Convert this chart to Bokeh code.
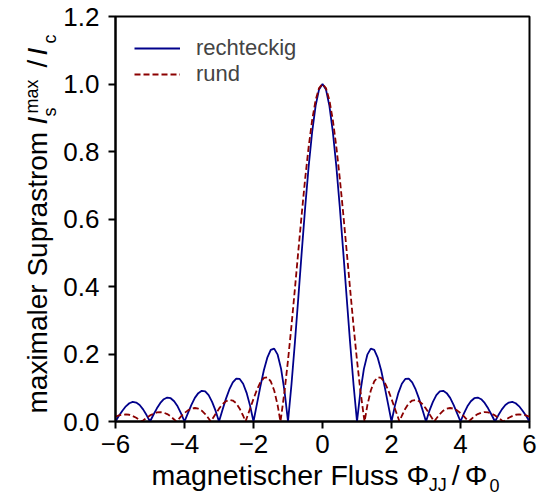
import math
from bokeh.plotting import figure
from bokeh.layouts import row, column
from bokeh.models import Range1d, FixedTicker, CustomJSTickFormatter, NumeralTickFormatter
from bokeh.core.properties import value
from bokeh.embed import file_html
from bokeh.resources import INLINE

# ---- data ----
x_rechteckig = [round(-6 + 0.1 * i, 1) for i in range(121)]
y_rechteckig = [
    0.000, 0.017, 0.032, 0.045, 0.054, 0.058, 0.056, 0.049, 0.036, 0.019,
    0.000, 0.020, 0.039, 0.055, 0.066, 0.071, 0.069, 0.060, 0.045, 0.024,
    0.000, 0.025, 0.049, 0.070, 0.084, 0.091, 0.089, 0.078, 0.058, 0.032,
    0.000, 0.034, 0.067, 0.095, 0.116, 0.127, 0.126, 0.112, 0.085, 0.047,
    0.000, 0.052, 0.104, 0.152, 0.189, 0.212, 0.216, 0.198, 0.156, 0.089,
    0.000, 0.109, 0.234, 0.368, 0.505, 0.637, 0.757, 0.858, 0.935, 0.984,
    1.000,
    0.984, 0.935, 0.858, 0.757, 0.637, 0.505, 0.368, 0.234, 0.109, 0.000,
    0.089, 0.156, 0.198, 0.216, 0.212, 0.189, 0.152, 0.104, 0.052, 0.000,
    0.047, 0.085, 0.112, 0.126, 0.127, 0.116, 0.095, 0.067, 0.034, 0.000,
    0.032, 0.058, 0.078, 0.089, 0.091, 0.084, 0.070, 0.049, 0.025, 0.000,
    0.024, 0.045, 0.060, 0.069, 0.071, 0.066, 0.055, 0.039, 0.020, 0.000,
    0.019, 0.036, 0.049, 0.056, 0.058, 0.054, 0.045, 0.032, 0.017, 0.000,
]

x_rund = [
    -6.0, -5.9, -5.8, -5.7, -5.6, -5.5, -5.4, -5.3, -5.24, -5.2, -5.1,
    -5.0, -4.9, -4.8, -4.7, -4.6, -4.5, -4.4, -4.3, -4.24, -4.2, -4.1,
    -4.0, -3.9, -3.8, -3.7, -3.6, -3.5, -3.4, -3.3, -3.24, -3.2, -3.1,
    -3.0, -2.9, -2.8, -2.7, -2.6, -2.5, -2.4, -2.3, -2.23, -2.2, -2.1,
    -2.0, -1.9, -1.8, -1.7, -1.6, -1.5, -1.4, -1.3, -1.22, -1.2, -1.1,
    -1.0, -0.9, -0.8, -0.7, -0.6, -0.5, -0.4, -0.3, -0.2, -0.1,
    0.0,
    0.1, 0.2, 0.3, 0.4, 0.5, 0.6, 0.7, 0.8, 0.9, 1.0,
    1.1, 1.2, 1.22, 1.3, 1.4, 1.5, 1.6, 1.7, 1.8, 1.9, 2.0,
    2.1, 2.2, 2.23, 2.3, 2.4, 2.5, 2.6, 2.7, 2.8, 2.9, 3.0,
    3.1, 3.2, 3.24, 3.3, 3.4, 3.5, 3.6, 3.7, 3.8, 3.9, 4.0,
    4.1, 4.2, 4.24, 4.3, 4.4, 4.5, 4.6, 4.7, 4.8, 4.9, 5.0,
    5.1, 5.2, 5.24, 5.3, 5.4, 5.5, 5.6, 5.7, 5.8, 5.9, 6.0,
]
y_rund = [
    0.014, 0.018, 0.020, 0.021, 0.020, 0.016, 0.011, 0.004, 0.000, 0.003, 0.011,
    0.018, 0.023, 0.027, 0.028, 0.026, 0.022, 0.015, 0.006, 0.000, 0.004, 0.015,
    0.025, 0.033, 0.038, 0.040, 0.038, 0.032, 0.022, 0.009, 0.000, 0.006, 0.022,
    0.038, 0.051, 0.060, 0.064, 0.062, 0.054, 0.038, 0.017, 0.000, 0.009, 0.038,
    0.067, 0.094, 0.116, 0.129, 0.131, 0.119, 0.092, 0.048, 0.000, 0.013, 0.090,
    0.181, 0.283, 0.393, 0.506, 0.617, 0.722, 0.815, 0.893, 0.952, 0.988,
    1.000,
    0.988, 0.952, 0.893, 0.815, 0.722, 0.617, 0.506, 0.393, 0.283, 0.181,
    0.090, 0.013, 0.000, 0.048, 0.092, 0.119, 0.131, 0.129, 0.116, 0.094, 0.067,
    0.038, 0.009, 0.000, 0.017, 0.038, 0.054, 0.062, 0.064, 0.060, 0.051, 0.038,
    0.022, 0.006, 0.000, 0.009, 0.022, 0.032, 0.038, 0.040, 0.038, 0.033, 0.025,
    0.015, 0.004, 0.000, 0.006, 0.015, 0.022, 0.026, 0.028, 0.027, 0.023, 0.018,
    0.011, 0.003, 0.000, 0.004, 0.011, 0.016, 0.020, 0.021, 0.020, 0.018, 0.014,
]

x_ticks = [-6, -4, -2, 0, 2, 4, 6]
y_ticks = [0.0, 0.2, 0.4, 0.6, 0.8, 1.0, 1.2]
series_labels = ["rechteckig", "rund"]

FONT = "Liberation Sans"
W, H = 538, 497
LEFT_W = 60          # strip holding the y axis title
MAIN_H = 463         # main plot canvas height; below it the x axis title strip
FRAME_L, FRAME_R, FRAME_T, FRAME_B = 114, 529, 16, 421

# ---------------- main plot ----------------
p = figure(width=W - LEFT_W, height=MAIN_H, output_backend="svg", toolbar_location=None,
           x_range=Range1d(-6, 6), y_range=Range1d(0, 1.2),
           min_border_left=FRAME_L - LEFT_W, min_border_right=W - FRAME_R,
           min_border_top=FRAME_T, min_border_bottom=MAIN_H - FRAME_B)
p.background_fill_color = "white"
p.border_fill_color = "white"
p.outline_line_color = "black"
p.outline_line_width = 2
p.grid.visible = False

p.line(x_rechteckig, y_rechteckig, line_color="#00008b", line_width=1.8,
       legend_label=series_labels[0])
p.line(x_rund, y_rund, line_color="#8b0000", line_width=1.8, line_dash="6 3",
       legend_label=series_labels[1])

for ax in (p.xaxis[0], p.yaxis[0]):
    ax.axis_line_width = 2
    ax.major_tick_line_width = 2
    ax.major_tick_in = 0
    ax.major_tick_out = 7
    ax.minor_tick_line_color = None
    ax.major_label_text_font = FONT
    ax.major_label_text_font_size = "26px"
    ax.major_label_text_color = "black"
    ax.axis_label = None
p.xaxis.major_label_standoff = 6
p.yaxis.major_label_standoff = 9

p.xaxis.ticker = FixedTicker(ticks=x_ticks)
p.yaxis.ticker = FixedTicker(ticks=y_ticks)
p.xaxis.formatter = CustomJSTickFormatter(
    code="return tick < 0 ? '\u2212' + Math.abs(tick).toFixed(0) : tick.toFixed(0);")
p.yaxis.formatter = NumeralTickFormatter(format="0.0")

p.legend.location = "top_left"
p.legend.border_line_color = None
p.legend.background_fill_alpha = 0
p.legend.label_text_font = FONT
p.legend.label_text_font_size = "22px"
p.legend.glyph_width = 46
p.legend.label_standoff = 16
p.legend.margin = 19
p.legend.padding = 0
p.legend.spacing = 0


def strip(width, height, xr, yr):
    # text-only strip; its ranges are expressed in page pixels
    f = figure(width=width, height=height, output_backend="svg", toolbar_location=None,
               x_range=Range1d(*xr), y_range=Range1d(*yr),
               x_axis_location=None, y_axis_location=None,
               min_border=0, min_border_left=0, min_border_right=0,
               min_border_top=0, min_border_bottom=0)
    f.grid.visible = False
    f.outline_line_color = None
    f.background_fill_color = "white"
    f.border_fill_color = "white"
    return f


def put(f, xs, ys, texts, size, angle=0.0, style="normal"):
    f.text(x=xs, y=ys, text=texts, angle=angle,
           text_font=value(FONT), text_font_size=value(size),
           text_font_style=value(style), text_color="black",
           text_align=value("left"), text_baseline=value("middle"))


def mid(baseline, size, sign=-1):
    # centre of the text box lies about 0.35 em above the baseline
    return baseline + sign * 0.35 * size


# ---------------- y axis title: maximaler Suprastrom I_s^max / I_c ----------------
yl = strip(LEFT_W, H, (0, LEFT_W), (H, 0))
R = math.pi / 2
put(yl, [mid(47, 28)], [413], ["maximaler Suprastrom"], "28px", R)
put(yl, [mid(47, 28)] * 2, [124, 55], ["I", "I"], "28px", R, "italic")
put(yl, [mid(47, 28)], [67], ["/"], "28px", R)
put(yl, [mid(56, 18), mid(38, 18), mid(56, 18)], [116, 113, 43],
    ["s", "max", "c"], "18px", R)

# ---------------- x axis title: magnetischer Fluss Φ_JJ / Φ_0 ----------------
# this strip's frame is aligned by the column with the main plot's frame
xl = strip(W - LEFT_W, H - MAIN_H, (FRAME_L, FRAME_R), (H, MAIN_H))
b_main = mid(484.5, 28.5)
b_sub = mid(491, 18)
put(xl, [150, 451, 464], [b_main] * 3, ["magnetischer Fluss \u03a6", "/", "\u03a6"], "28.5px")
put(xl, [428, 489], [b_sub] * 2, ["JJ", "0"], "18px")

layout = row(yl, column(p, xl, spacing=0), spacing=0)

open("out.html", "w").write(file_html(layout, INLINE))
